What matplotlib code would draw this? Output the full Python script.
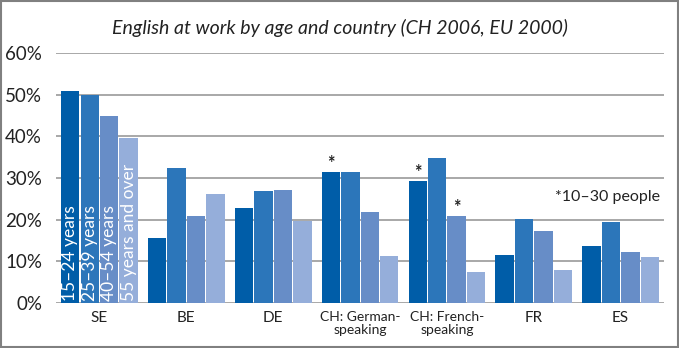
import numpy as np
import matplotlib
matplotlib.use("Agg")
import matplotlib.pyplot as plt
from matplotlib.patches import Rectangle

plt.rcParams['font.family'] = ['Lato', 'DejaVu Sans']

# data
countries = ["SE", "BE", "DE", "CH: German-\nspeaking", "CH: French-\nspeaking", "FR", "ES"]
age_groups = ["15\u201324 years", "25\u201339 years", "40\u201354 years", "55 years and over"]
age_15_24 = [50.9, 15.5, 22.8, 31.4, 29.3, 11.5, 13.7]
age_25_39 = [49.9, 32.3, 27.0, 31.4, 34.8, 20.1, 19.4]
age_40_54 = [44.8, 20.9, 27.1, 21.8, 20.8, 17.4, 12.2]
age_55_up = [39.7, 26.1, 19.6, 11.3, 7.4, 8.0, 11.0]
yticks = [0, 10, 20, 30, 40, 50, 60]
# (country index, age index) with 10-30 respondents
starred = [(3, 0), (4, 0), (4, 2)]

colors = ["#005DA8", "#2C76BA", "#678DC7", "#95AEDA"]
series = [age_15_24, age_25_39, age_40_54, age_55_up]

fig = plt.figure(figsize=(6.79, 3.48), dpi=100)
ax = fig.add_axes([0.0825, 0.1293, 0.8955, 0.7184])

x = np.arange(len(countries))
step = 0.224
width = 0.212
for i, vals in enumerate(series):
    pos = x + (i - 1.5) * step
    ax.bar(pos, vals, width=width, color=colors[i], zorder=3)
    # label inside the SE bar
    ax.text(pos[0], 0.6, age_groups[i], rotation=90, ha="center", va="bottom",
            color="white", fontsize=12.5, zorder=4)

for ci, ai in starred:
    ax.text(x[ci] + (ai - 1.5) * step, series[ai][ci] + 0.1, "*", ha="center",
            va="bottom", fontsize=13, fontweight="bold", color="#222222", zorder=4)

ax.text(6.45, 25.5, "*10\u201330 people", ha="right", va="center", fontsize=11.5, color="#222222")

ax.set_xlim(-0.5, len(countries) - 0.5)
ax.set_ylim(0, 60)
ax.set_yticks(yticks)
ax.set_yticklabels([f"{v}%" for v in yticks], fontsize=13.5, color="#222222")
ax.set_xticks(x)
ax.set_xticklabels(countries, fontsize=11, color="#222222", linespacing=1.1, va="top")
for lbl in ax.get_xticklabels():
    if "\n" in lbl.get_text():
        lbl.set_fontsize(10)
ax.tick_params(length=0, pad=6)
ax.tick_params(axis="y", pad=10)
ax.grid(axis="y", color="#9A9A9A", linewidth=1.2, zorder=0)
for s in ax.spines.values():
    s.set_visible(False)

fig.text(0.5, 0.92, "English at work by age and country (CH 2006, EU 2000)",
         ha="center", va="center", fontsize=14, style="italic", color="#222222")

fig.patches.append(Rectangle((0.002, 0.004), 0.996, 0.992, transform=fig.transFigure,
                             fill=False, edgecolor="#808080", linewidth=1.5))

fig.savefig("out.png", dpi=100)
